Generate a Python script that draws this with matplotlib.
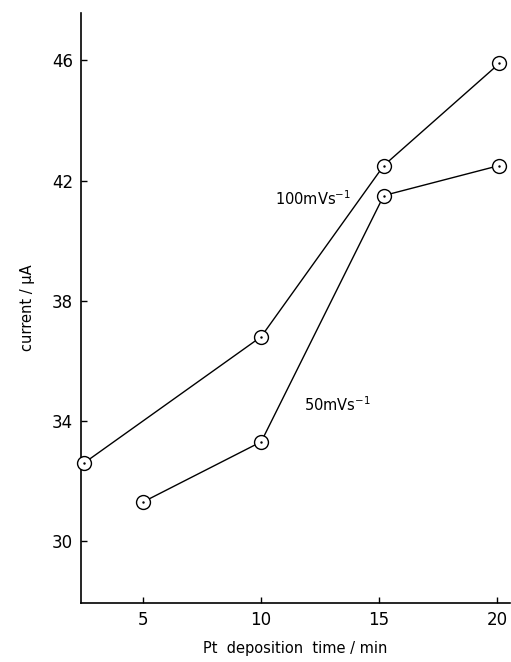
import matplotlib.pyplot as plt

# --- data ---
time_100 = [2.5, 10.0, 15.2, 20.1]
current_100 = [32.6, 36.8, 42.5, 45.9]

time_50 = [5.0, 10.0, 15.2, 20.1]
current_50 = [31.3, 33.3, 41.5, 42.5]

x_ticks = [5, 10, 15, 20]
y_ticks = [30, 34, 38, 42, 46]

plt.rcParams['font.family'] = ['DejaVu Sans']

fig = plt.figure(figsize=(5.11, 6.62), dpi=100)
ax = fig.add_axes([0.159, 0.089, 0.839, 0.891])

for t, c in [(time_100, current_100), (time_50, current_50)]:
    ax.plot(t, c, color='black', lw=1.0, marker='o', markersize=10,
            markerfacecolor='white', markeredgecolor='black', markeredgewidth=1.0,
            clip_on=False, zorder=3)
    ax.plot(t, c, ls='none', marker='.', markersize=1.5, color='black',
            clip_on=False, zorder=4)

ax.text(13.8, 41.4, '100mVs$^{-1}$', fontsize=10.5, ha='right', va='center')
ax.text(11.8, 34.55, '50mVs$^{-1}$', fontsize=10.5, ha='left', va='center')

ax.set_xlim(2.37, 20.55)
ax.set_ylim(27.93, 47.57)
ax.set_xticks(x_ticks)
ax.set_yticks(y_ticks)
ax.tick_params(direction='in', length=4, width=1, labelsize=12, pad=6)

for side in ['top', 'right']:
    ax.spines[side].set_visible(False)
for side in ['left', 'bottom']:
    ax.spines[side].set_linewidth(1.2)

ax.set_xlabel('Pt  deposition  time / min', fontsize=10.5, labelpad=8)
ax.set_ylabel('current / \u03bcA', fontsize=10.5, labelpad=12)

fig.savefig('out.png', dpi=100)
